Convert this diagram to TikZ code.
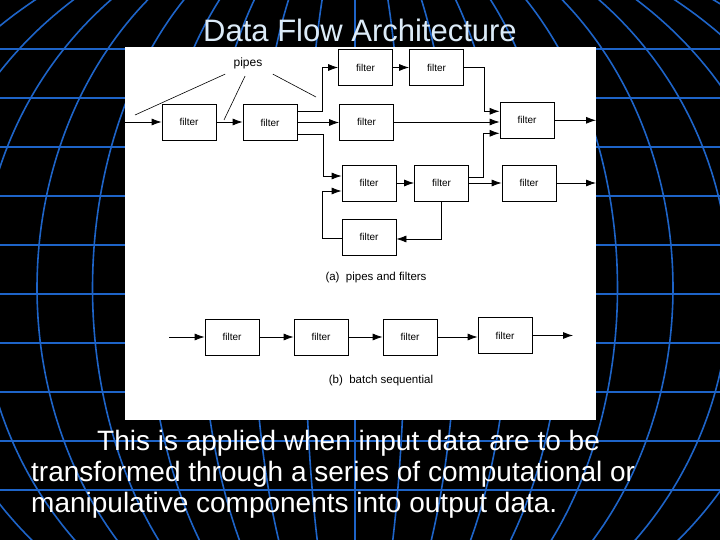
\documentclass[tikz,border=0pt]{standalone}
\usepackage{fontspec}
\setmainfont{Liberation Sans}
\usetikzlibrary{arrows.meta}

\definecolor{gridblue}{RGB}{30,100,200}
\definecolor{titleblue}{RGB}{220,235,248}

\tikzset{
  filterbox/.style={draw, line width=0.8pt, minimum width=54pt,
    minimum height=36pt, inner sep=0pt, font=\fontsize{10}{12}\selectfont},
  pipe/.style={line width=0.8pt, -{Latex[length=10pt,width=7pt]}},
  pointer/.style={line width=0.6pt},
  caption/.style={font=\fontsize{11.5}{14}\selectfont},
  gridline/.style={gridblue, line width=1.6pt},
  slidetext/.style={white, anchor=base west, inner sep=0pt,
    font=\fontsize{28}{31}\selectfont},
}

\begin{document}
\begin{tikzpicture}[x=1pt,y=-1pt]
  % background: black globe grid
  \clip (0,0) rectangle (720,540);
  \fill[black] (0,0) rectangle (720,540);
  \foreach \y in {49,98,...,490}
    \draw[gridline, line width=1.3pt] (0,\y) -- (720,\y);
  \foreach \k in {-12,...,12}{
    \pgfmathsetmacro{\A}{50*\k+0.5*\k*abs(\k)}
    \draw[gridline] plot[domain=-60:50, samples=40, smooth]
      ({355+\A*cos(\x)}, {288+380*sin(\x)});
  }

  % title
  \node[titleblue, font=\fontsize{31}{36}\selectfont, anchor=base]
    (title) at (360,42) {Data Flow Architecture};

  % white panel with the figure
  \fill[white] (125,47) rectangle (596,420);

  % (a) pipes and filters
  \node[filterbox] (A) at (189,122) {filter};
  \node[filterbox] (B) at (270,122.5) {filter};
  \node[filterbox] (C) at (365.5,67.5) {filter};
  \node[filterbox] (E) at (436.5,67.5) {filter};
  \node[filterbox] (D) at (366.5,122) {filter};
  \node[filterbox] (F) at (527,120.3) {filter};
  \node[filterbox] (G) at (369,183) {filter};
  \node[filterbox] (H) at (441.5,183) {filter};
  \node[filterbox] (I) at (529,183) {filter};
  \node[filterbox] (J) at (369,237) {filter};
  \coordinate (inA) at (125,0);
  \coordinate (outR) at (596,0);

  \draw[pipe] (A.west -| inA) -- (A.west);
  \draw[pipe] (A.east) -- (A.east -| B.west);
  \draw[pipe] ([yshift=11pt]B.east) -- ++(25,0) |- (C.west);
  \draw[pipe] (B.east) -- (B.east -| D.west);
  \draw[pipe] ([yshift=-12pt]B.east) -- ++(26,0) |- ([yshift=7pt]G.west);
  \draw[pipe] (C.east) -- (E.west);
  \draw[pipe] (E.east) -- ++(20,0) |- ([yshift=9pt]F.west);
  \draw[pipe] (D.east) -- (D.east -| F.west);
  \draw[pipe] ([yshift=6pt]H.east) -- ++(14,0) |- ([yshift=-13pt]F.west);
  \draw[pipe] (F.east) -- (F.east -| outR);
  \draw[pipe] (G.east) -- (H.west);
  \draw[pipe] (H.east) -- (I.west);
  \draw[pipe] (I.east) -- (I.east -| outR);
  \draw[pipe] (H.south) |- ([yshift=-2pt]J.east);
  \draw[pipe] ([yshift=-1pt]J.west) -- ++(-19,0) |- ([yshift=-8pt]G.west);

  % pipes label
  \node[font=\fontsize{12}{14}\selectfont] (pipes) at (248,63) {pipes};
  \coordinate (p1) at (135,115);
  \coordinate (p2) at (224,120);
  \coordinate (p3) at (316,97);
  \draw[pointer] (pipes.south west) ++(-5,2) -- (p1);
  \draw[pointer] (pipes.south) ++(-3,4) -- (p2);
  \draw[pointer] (pipes.south east) ++(7,2) -- (p3);

  \node[caption] (capA) at (376,278) {(a)\ \ pipes and filters};

  % (b) batch sequential
  \node[filterbox] (K1) at (232,337) {filter};
  \node[filterbox] (K2) at (321,337) {filter};
  \node[filterbox] (K3) at (410,337) {filter};
  \node[filterbox] (K4) at (505,335.5) {filter};
  \coordinate (inK) at (169,0);
  \coordinate (outK) at (573,0);

  \draw[pipe] (K1.west -| inK) -- (K1.west);
  \draw[pipe] (K1.east) -- (K2.west);
  \draw[pipe] (K2.east) -- (K3.west);
  \draw[pipe] (K3.east) -- (K3.east -| K4.west);
  \draw[pipe] (K4.east) -- (K4.east -| outK);

  \node[caption] (capB) at (381,381) {(b)\ \ batch sequential};

  % text below the figure
  \node[slidetext] (line1) at (97,450)
    {This is applied when input data are to be};
  \node[slidetext] (line2) at (31,481)
    {transformed through a series of computational or};
  \node[slidetext] (line3) at (31,512)
    {manipulative components into output data.};
\end{tikzpicture}
\end{document}
